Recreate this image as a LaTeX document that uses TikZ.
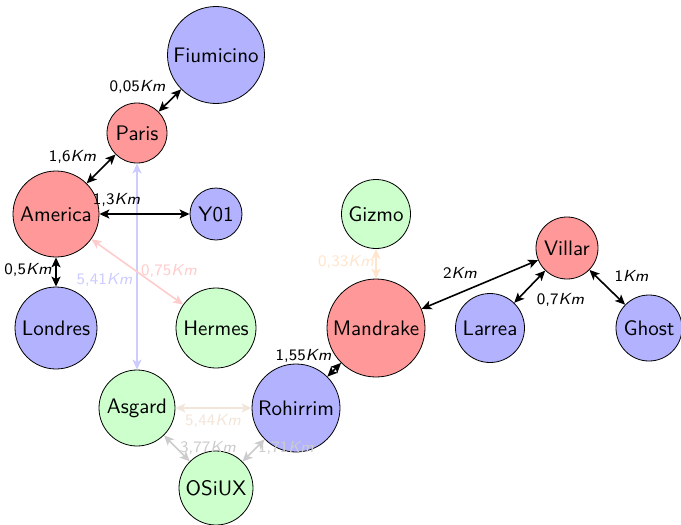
\documentclass[tikz,border=0pt]{standalone}
\usepackage{fontspec}
\usetikzlibrary{arrows.meta}
\begin{document}
\begin{tikzpicture}[x=0.5pt,y=-0.5pt,
 city/.style={circle,draw=black,line width=0.4pt,inner sep=0pt,font=\sffamily\fontsize{10.5}{12}\selectfont},
 rojo/.style={city,fill=red!40},
 azul/.style={city,fill=blue!30},
 verde/.style={city,fill=green!20},
 dist/.style={font=\sffamily\fontsize{8}{9}\selectfont,inner sep=0pt},
 link/.style={{Stealth[length=5pt,width=4.5pt,inset=1.2pt]}-{Stealth[length=5pt,width=4.5pt,inset=1.2pt]},line width=0.8pt},
]
\useasboundingbox (0,0) rectangle (681,525);
% nodes
\node[azul,minimum size=48.5pt] (fiu) at (216,55) {Fiumicino};
\node[rojo,minimum size=30pt] (par) at (137,133) {Paris};
\node[rojo,minimum size=43pt] (ame) at (56,214) {America};
\node[azul,minimum size=26pt] (y01) at (216,214) {Y01};
\node[verde,minimum size=34.5pt] (giz) at (376,214) {Gizmo};
\node[rojo,minimum size=31pt] (vil) at (567,248) {Villar};
\node[azul,minimum size=41pt] (lon) at (56,328) {Londres};
\node[verde,minimum size=40pt] (her) at (216,328) {Hermes};
\node[rojo,minimum size=49pt] (man) at (376,328) {Mandrake};
\node[azul,minimum size=34.5pt] (lar) at (490,328) {Larrea};
\node[azul,minimum size=33pt] (gho) at (649,328) {Ghost};
\node[verde,minimum size=38pt] (asg) at (137,408) {Asgard};
\node[azul,minimum size=44pt] (roh) at (296,408) {Rohirrim};
\node[verde,minimum size=37pt] (osi) at (216,488) {OSiUX};
% light connectors
\draw[link,blue!20] (par) -- (asg);
\node[dist,text=blue!20] (l541) at (104.5,280) {5,41\textit{Km}};
\draw[link,red!20] (ame) -- (her);
\node[dist,text=red!20] (l075) at (169,271) {0,75\textit{Km}};
\draw[link,orange!20] (giz) -- (man);
\node[dist,text=orange!20] (l033) at (346,262) {0,33\textit{Km}};
\draw[link,brown!20] (asg) -- (roh);
\node[dist,text=brown!20] (l544) at (213,421) {5,44\textit{Km}};
\draw[link,gray!40] (asg) -- (osi);
\node[dist,text=gray!40] (l377) at (208,448) {3,77\textit{Km}};
\draw[link,gray!40] (roh) -- (osi);
\node[dist,text=gray!40] (l171) at (286,448) {1,71\textit{Km}};
% black connectors
\draw[link] (par) -- (fiu);
\node[dist] (l005) at (137.5,87) {0,05\textit{Km}};
\draw[link] (ame) -- (par);
\node[dist] (l16) at (72.5,157) {1,6\textit{Km}};
\draw[link] (ame) -- (y01);
\node[dist] (l13) at (116.5,200) {1,3\textit{Km}};
\draw[link] (ame) -- (lon);
\node[dist] (l05) at (28,270) {0,5\textit{Km}};
\draw[link] (man) -- (vil);
\node[dist] (l2) at (460,273) {2\textit{Km}};
\draw[link] (vil) -- (lar);
\node[dist] (l07) at (560.5,300) {0,7\textit{Km}};
\draw[link] (vil) -- (gho);
\node[dist] (l1) at (631.5,276) {1\textit{Km}};
\draw[link] (man) -- (roh);
\node[dist] (l155) at (303.5,356) {1,55\textit{Km}};
\end{tikzpicture}
\end{document}
